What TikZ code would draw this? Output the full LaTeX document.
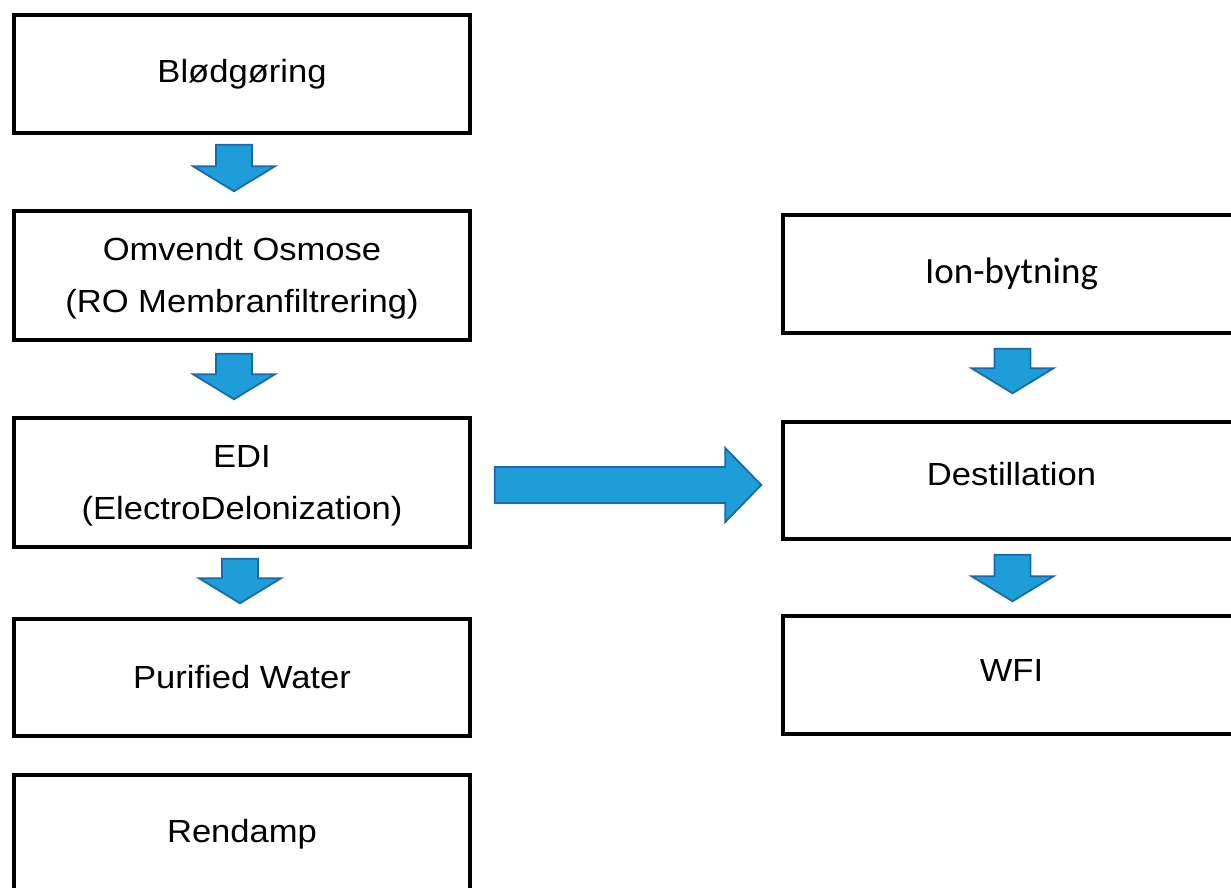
\documentclass[tikz,border=0pt]{standalone}
\usepackage{fontspec}
\setmainfont{Liberation Sans}[FakeStretch=1.08]
\newfontfamily\calibrifont{Carlito}
\usetikzlibrary{calc}
\definecolor{arrfill}{RGB}{31,157,216}
\definecolor{arrdraw}{RGB}{24,106,172}
\tikzset{
  stagebox/.style={draw=black, line width=3.5pt, fill=white, minimum width=456pt, inner sep=0pt,
    align=center, font=\fontsize{32}{51.5}\selectfont},
  barrow/.style={fill=arrfill, draw=arrdraw, line width=1.8pt, line join=miter},
}
\newcommand\dnarr[2]{%
  \filldraw[barrow] ($(#1)+(-18,0)$) -- ($(#1)+(18,0)$) -- ($(#2)+(18,-25)$) -- ($(#2)+(41,-25)$)
    -- (#2) -- ($(#2)+(-41,-25)$) -- ($(#2)+(-18,-25)$) -- cycle;}
\newcommand\rtarr[2]{%
  \filldraw[barrow] ($(#1)+(0,-18)$) -- ($(#2)+(-36,-18)$) -- ($(#2)+(-36,-37)$)
    -- (#2) -- ($(#2)+(-36,37)$) -- ($(#2)+(-36,18)$) -- ($(#1)+(0,18)$) -- cycle;}
\begin{document}
\begin{tikzpicture}[x=1pt, y=-1pt]
\useasboundingbox (0,0) rectangle (1231,888);
\clip (0,0) rectangle (1231,888);
% left column
\node[stagebox, minimum height=118pt] (b1) at (242,74) {Blødgøring};
\node[stagebox, minimum height=129pt] (b2) at (242,275.5) {\rule{0pt}{29pt}Omvendt Osmose\\(RO Membranfiltrering)};
\node[stagebox, minimum height=129pt] (b3) at (242,482.5) {\rule{0pt}{29pt}EDI\\(ElectroDelonization)};
\node[stagebox, minimum height=117pt] (b4) at (242,677.5) {Purified Water};
\node[stagebox, minimum height=130pt, text height=23pt, text depth=19pt] (b5) at (242,840) {Rendamp};
% right column
\node[stagebox, minimum width=457pt, minimum height=118pt, font=\calibrifont\fontsize{37}{44}\selectfont] (r1) at (1011.5,274) {Ion-bytning};
\node[stagebox, minimum width=457pt, minimum height=117pt, text height=23pt, text depth=13pt] (r2) at (1011.5,480.5) {Destillation};
\node[stagebox, minimum width=457pt, minimum height=118pt, text height=23pt, text depth=10pt] (r3) at (1011.5,675) {WFI};
% arrow anchors
\coordinate (a1s) at ($(b1.south)+(-8,10)$);
\coordinate (a1e) at ($(b2.north)+(-8,-18)$);
\coordinate (a2s) at ($(b2.south)+(-8,12)$);
\coordinate (a2e) at ($(b3.north)+(-8,-17)$);
\coordinate (a3s) at ($(b3.south)+(-2,10)$);
\coordinate (a3e) at ($(b4.north)+(-2,-14)$);
\coordinate (a4s) at ($(r1.south)+(1,14)$);
\coordinate (a4e) at ($(r2.north)+(1,-27)$);
\coordinate (a5s) at ($(r2.south)+(1,14)$);
\coordinate (a5e) at ($(r3.north)+(1,-13)$);
\coordinate (a6s) at ($(b3.east)+(23,2.5)$);
\coordinate (a6e) at ($(r2.west)+(-20,4.5)$);
\dnarr{a1s}{a1e}
\dnarr{a2s}{a2e}
\dnarr{a3s}{a3e}
\dnarr{a4s}{a4e}
\dnarr{a5s}{a5e}
\rtarr{a6s}{a6e}
\end{tikzpicture}
\end{document}
